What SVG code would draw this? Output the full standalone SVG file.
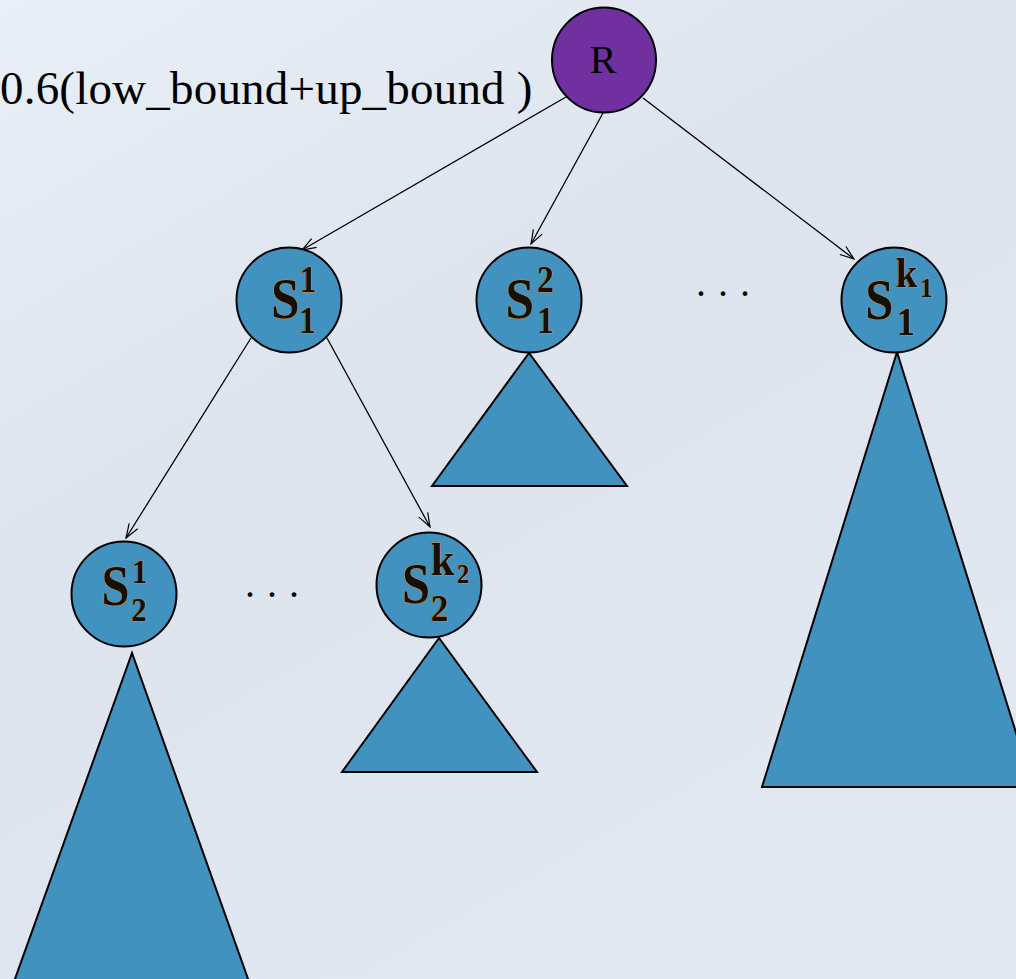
<svg xmlns="http://www.w3.org/2000/svg" width="1016" height="979" viewBox="0 0 1016 979">
  <defs>
    <linearGradient id="bg" x1="0" y1="0" x2="0.6" y2="1">
      <stop offset="0" stop-color="#e9eff6"/>
      <stop offset="0.45" stop-color="#dde4ee"/>
      <stop offset="1" stop-color="#e2e8f0"/>
    </linearGradient>
    <marker id="arrow" markerWidth="16" markerHeight="12" refX="15" refY="6" orient="auto" markerUnits="userSpaceOnUse">
      <path d="M1,1 L15,6 L1,11" fill="none" stroke="#000" stroke-width="1.2"/>
    </marker>
    <style>
      .node { fill: #4292c0; stroke: #000; stroke-width: 2; }
      .root { fill: #7030a0; stroke: #000; stroke-width: 2; }
      .tri { fill: #4292c0; stroke: #000; stroke-width: 2; stroke-linejoin: miter; }
      .edge { stroke: #000; stroke-width: 1.3; fill: none; marker-end: url(#arrow); }
      .lbl { font-family: "Liberation Serif", "Times New Roman", serif; font-weight: bold; fill: #141008; stroke: #d08a3a; stroke-width: 1; paint-order: stroke; }
      .cap { font-family: "Liberation Serif", "Times New Roman", serif; fill: #000; }
    </style>
  </defs>

  <rect width="1016" height="979" fill="url(#bg)"/>

  <!-- subtree triangles -->
  <g id="subtrees">
    <polygon class="tri" points="529,353 432,486 627,486"/>
    <polygon class="tri" points="897,352 762,787 1033,787"/>
    <polygon class="tri" points="439,638 342,772 537,772"/>
    <polygon class="tri" points="132,653 11,990 252,990"/>
  </g>

  <!-- connectors -->
  <g id="connectors">
    <line class="edge" x1="566" y1="97" x2="302" y2="250"/>
    <line class="edge" x1="603" y1="113" x2="531" y2="244"/>
    <line class="edge" x1="643" y1="98" x2="854" y2="259"/>
    <line class="edge" x1="251" y1="338" x2="126" y2="538"/>
    <line class="edge" x1="327" y1="338" x2="430" y2="527"/>
  </g>

  <text class="cap" x="0" y="104" font-size="47" letter-spacing="0.2">0.6(low_bound+up_bound )</text>

  <g id="node-R">
    <ellipse class="root" cx="604" cy="60" rx="52" ry="52.5"/>
    <text class="cap" x="603" y="73" font-size="40" text-anchor="middle">R</text>
  </g>

  <!-- node labels: S with superscript/subscript indices, narrowed horizontally -->
  <g id="node-S1-1">
    <circle class="node" cx="289" cy="300" r="52.5"/>
    <text class="lbl" transform="translate(289 300) scale(0.9 1)"><tspan x="-20" y="18" font-size="57">S</tspan><tspan x="12" y="-8" font-size="37">1</tspan><tspan x="11" y="33" font-size="37">1</tspan></text>
  </g>

  <g id="node-S1-2">
    <circle class="node" cx="529" cy="300" r="52.5"/>
    <text class="lbl" transform="translate(529 300) scale(0.9 1)"><tspan x="-26" y="18" font-size="57">S</tspan><tspan x="9" y="-8" font-size="37">2</tspan><tspan x="9" y="33" font-size="37">1</tspan></text>
  </g>

  <g id="node-S1-k1">
    <circle class="node" cx="894" cy="300" r="52.5"/>
    <text class="lbl" transform="translate(894 300) scale(0.9 1)"><tspan x="-32" y="19" font-size="56">S</tspan><tspan x="2" y="-13" font-size="43">k</tspan><tspan x="29" y="-3" font-size="28">1</tspan><tspan x="3" y="35" font-size="40">1</tspan></text>
  </g>

  <g id="node-S2-1">
    <circle class="node" cx="124" cy="594" r="52.5"/>
    <text class="lbl" transform="translate(124 594) scale(0.9 1)"><tspan x="-25" y="11" font-size="56">S</tspan><tspan x="9" y="-11" font-size="34">1</tspan><tspan x="8" y="27" font-size="34">2</tspan></text>
  </g>

  <g id="node-S2-k2">
    <circle class="node" cx="429" cy="585" r="52.5"/>
    <text class="lbl" transform="translate(429 585) scale(0.9 1)"><tspan x="-30" y="18" font-size="56">S</tspan><tspan x="2" y="-10" font-size="47">k</tspan><tspan x="31" y="-2" font-size="27">2</tspan><tspan x="2" y="36" font-size="39">2</tspan></text>
  </g>

  <!-- sibling ellipses -->
  <text class="cap" x="696" y="296" font-size="40" letter-spacing="12">...</text>
  <text class="cap" x="245" y="597" font-size="40" letter-spacing="12">...</text>
</svg>
